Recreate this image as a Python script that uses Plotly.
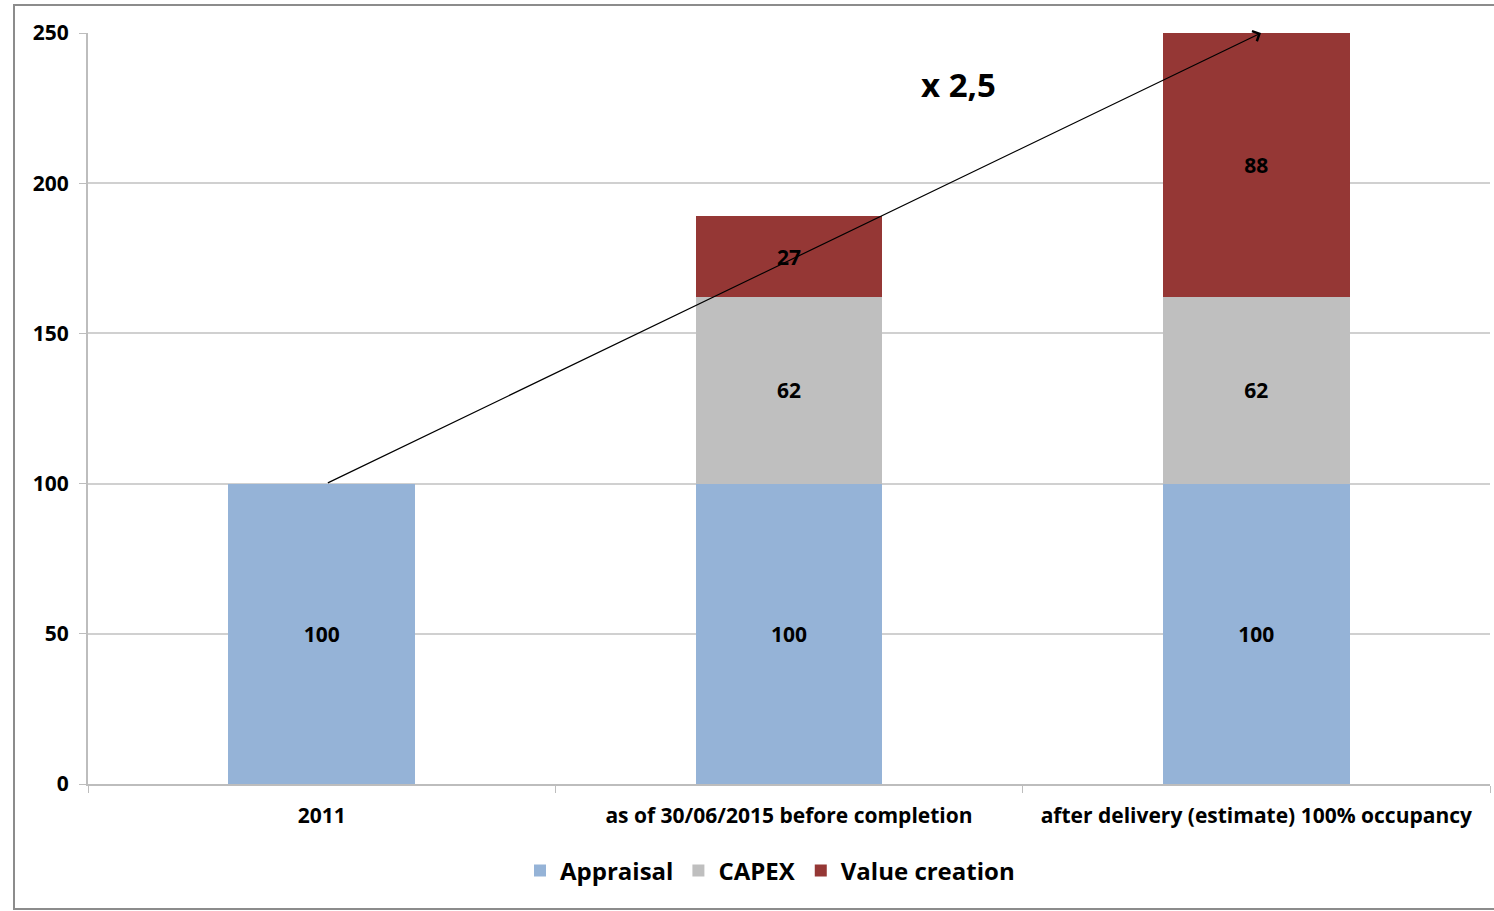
import plotly.graph_objects as go

categories = ["2011", "as of 30/06/2015 before completion", "after delivery (estimate) 100% occupancy"]
appraisal = [100, 100, 100]
capex = [None, 62, 62]
value_creation = [None, 27, 88]
y_ticks = [0, 50, 100, 150, 200, 250]
multiplier_label = "x 2,5"

FONT = "Open Sans"
W, H = 1494, 911
ML, MR, MT, MB = 88, 4, 33, 127

fig = go.Figure()

def add(name, vals, color):
    fig.add_trace(go.Bar(
        name=name, x=categories, y=vals, marker=dict(color=color, line=dict(width=0)),
        width=0.4,
        text=[("" if v is None else str(v)) for v in vals],
        textposition="inside", insidetextanchor="middle",
        textfont=dict(family=FONT, size=21, color="#000000", weight="bold"),
        constraintext="none", cliponaxis=False,
    ))

add("Appraisal", appraisal, "#95B3D7")
add("CAPEX", capex, "#BFBFBF")
add("Value creation", value_creation, "#953735")

# arrow 2011 -> after delivery
fig.add_annotation(x=2.01, y=250, ax=0.01, ay=100, xref="x", yref="y", axref="x", ayref="y",
                   text="", showarrow=True, arrowhead=4, arrowsize=1.8, arrowwidth=1.2,
                   arrowcolor="#000000")
fig.add_annotation(x=1.363, y=232.7, xref="x", yref="y", text=multiplier_label, showarrow=False,
                   font=dict(family=FONT, size=33, color="#000000", weight="bold"))

pw = W - ML - MR
ph = H - MT - MB
fig.add_shape(type="rect", xref="paper", yref="paper",
              x0=(14 - ML) / pw, x1=(W + 5 - ML) / pw,
              y0=(H - MB - 909) / ph, y1=(H - MB - 5) / ph,
              line=dict(color="#8c8c8c", width=2), fillcolor="rgba(0,0,0,0)", layer="below")

fig.update_layout(
    width=W, height=H, barmode="stack",
    margin=dict(l=ML, r=MR, t=MT, b=MB),
    paper_bgcolor="white", plot_bgcolor="white",
    font=dict(family=FONT, color="#000000"),
    showlegend=True,
    legend=dict(orientation="h", x=(770 - ML) / pw, xanchor="center", y=(H - MB - 871) / ph,
                yanchor="middle",
                font=dict(family=FONT, size=24, color="#000000", weight="bold"),
                itemsizing="constant", traceorder="normal", itemwidth=30),
    xaxis=dict(range=[-0.5, 2.5], tickson="boundaries", ticks="outside", ticklen=7,
               tickcolor="#bdbdbd", showline=True, linecolor="#bdbdbd", linewidth=2,
               tickfont=dict(family=FONT, size=21, color="#000000", weight="bold"),
               showgrid=False, ticklabelstandoff=12),
    yaxis=dict(range=[0, 250], tickvals=y_ticks, ticks="outside", ticklen=7, tickcolor="#bdbdbd",
               showline=True, linecolor="#bdbdbd", linewidth=2, showgrid=True,
               gridcolor="#d0d0d0", gridwidth=2, zeroline=False,
               tickfont=dict(family=FONT, size=21, color="#000000", weight="bold"), ticklabelstandoff=6),
)

fig.write_html("out.html")
